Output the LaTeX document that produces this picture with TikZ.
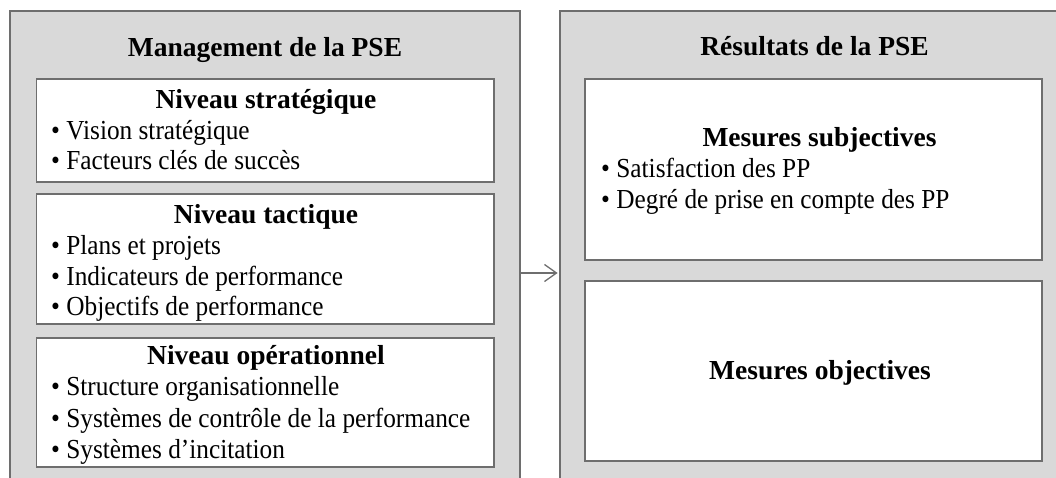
\documentclass[tikz,border=0pt]{standalone}
\usepackage{fontspec}
\setmainfont{Liberation Serif}
\newfontfamily\itemfont[FakeStretch=0.92]{Liberation Serif}
\usetikzlibrary{arrows.meta}

\definecolor{panelfill}{HTML}{D9D9D9}
\definecolor{edgegray}{HTML}{6E6E6E}

\tikzset{
  panel/.style={draw=edgegray, line width=1.8pt, fill=panelfill, inner sep=0pt},
  levelbox/.style={draw=edgegray, line width=1.8pt, fill=white, inner sep=0pt},
  headtext/.style={anchor=base, inner sep=0pt, font=\fontsize{27.5}{33}\selectfont\bfseries},
  itemtext/.style={anchor=base west, inner sep=0pt, font=\itemfont\fontsize{27.5}{33}\selectfont},
  flow/.style={draw=edgegray, line width=1.3pt, -{Straight Barb[length=12pt,width=17pt,line width=1.3pt]}, shorten >=1.5pt}
}

\begin{document}
\begin{tikzpicture}[x=1pt, y=-1pt]
  \useasboundingbox (0,0) rectangle (1056,478);
  \clip (0,0) rectangle (1056,478);

  % outer panels (both run past the lower and right edges)
  \node[panel, minimum width=510pt, minimum height=488pt] (lout) at (265,255) {};
  \node[panel, minimum width=520pt, minimum height=488pt] (rout) at (820,255) {};

  % titles
  \node[headtext] (ltitle) at (265,56.5) {Management de la PSE};
  \node[headtext] (rtitle) at (814.5,56) {Résultats de la PSE};

  % left column: three management levels
  \node[levelbox, minimum width=457.5pt, minimum height=103pt] (strat) at (265.25,130.5) {};
  \node[levelbox, minimum width=457.5pt, minimum height=130pt] (tact) at (265.25,259) {};
  \node[levelbox, minimum width=457.5pt, minimum height=129pt] (oper) at (265.25,402.5) {};

  \node[headtext] (stratH) at (266,108.5) {Niveau stratégique};
  \node[itemtext] (s1) at (51,140) {• Vision stratégique};
  \node[itemtext] (s2) at (51,170) {• Facteurs clés de succès};

  \node[headtext] (tactH) at (266,223) {Niveau tactique};
  \node[itemtext] (t1) at (51,254) {• Plans et projets};
  \node[itemtext] (t2) at (51,285) {• Indicateurs de performance};
  \node[itemtext] (t3) at (51,315) {• Objectifs de performance};

  \node[headtext] (operH) at (266,364.5) {Niveau opérationnel};
  \node[itemtext] (o1) at (51,395.5) {• Structure organisationnelle};
  \node[itemtext] (o2) at (51,427) {• Systèmes de contrôle de la performance};
  \node[itemtext] (o3) at (51,458) {• Systèmes d’incitation};

  % right column: result measures
  \node[levelbox, minimum width=457pt, minimum height=181pt] (subj) at (813.5,169.5) {};
  \node[levelbox, minimum width=457pt, minimum height=180pt] (obj) at (813.5,371) {};

  \node[headtext] (subjH) at (819.5,147) {Mesures subjectives};
  \node[itemtext] (m1) at (601,178) {• Satisfaction des PP};
  \node[itemtext] (m2) at (601,208.5) {• Degré de prise en compte des PP};

  \node[headtext] (objH) at (820,379) {Mesures objectives};

  % link between the two panels
  \coordinate (flowlevel) at (540,273);
  \draw[flow] (lout.east |- flowlevel) -- (rout.west |- flowlevel);
\end{tikzpicture}
\end{document}
